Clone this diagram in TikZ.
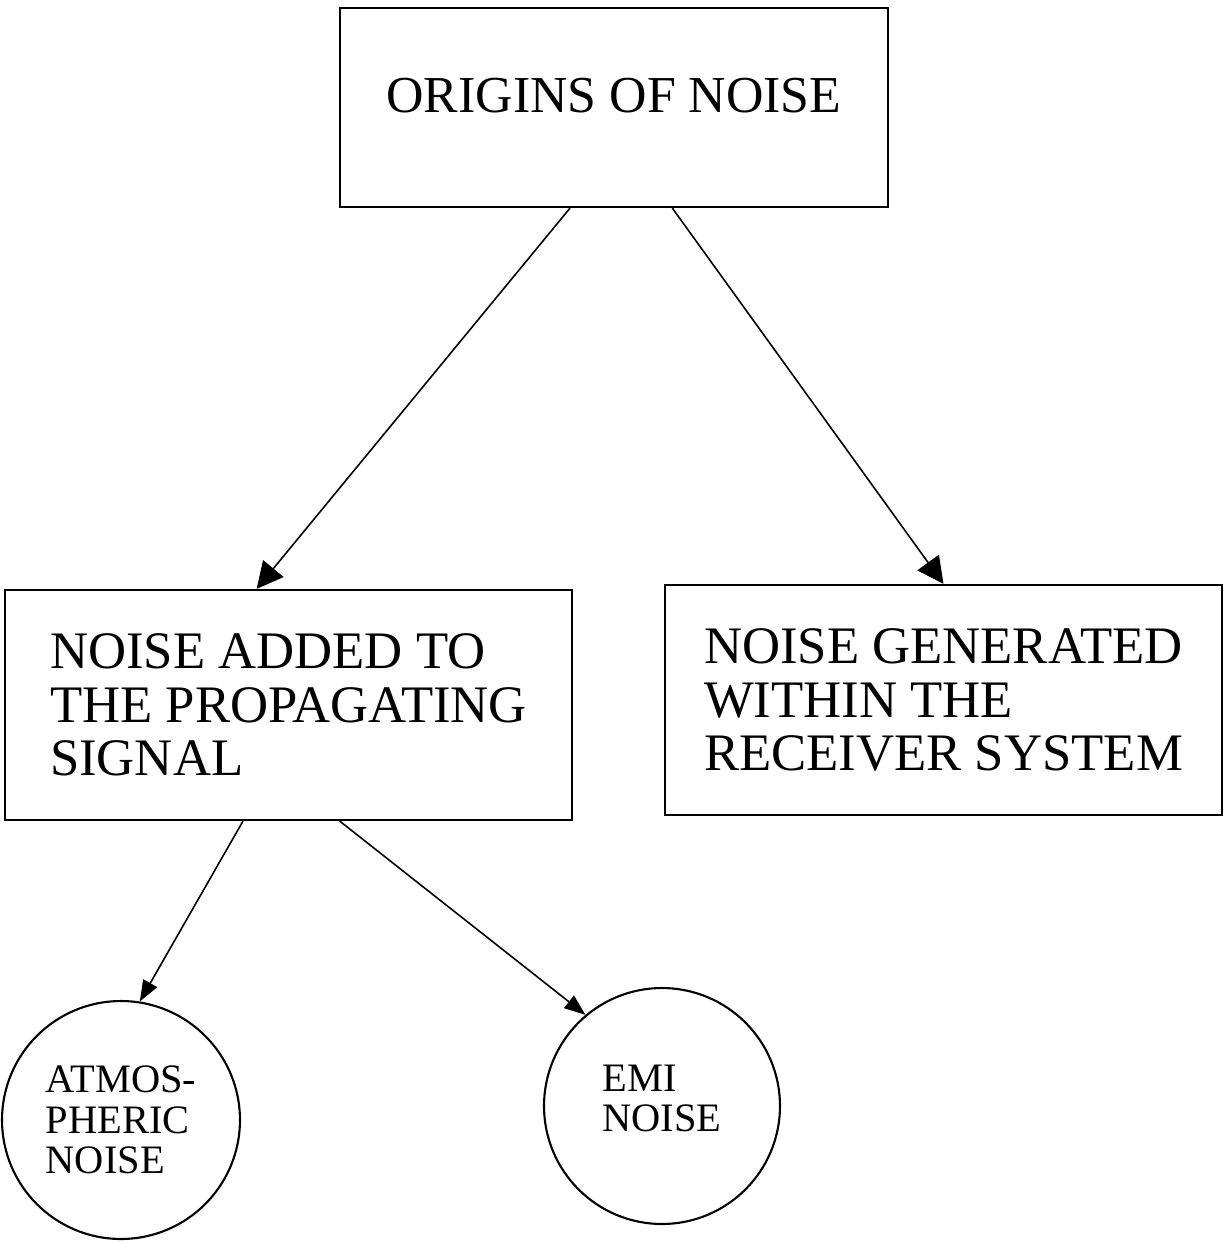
\documentclass[tikz,border=0pt]{standalone}
\usepackage{fontspec}
\setmainfont{Liberation Serif}
\usetikzlibrary{arrows.meta,calc}

\begin{document}
\begin{tikzpicture}[x=0.02cm,y=-0.02cm,
  box/.style={draw,line width=1.3pt,inner sep=0pt,align=left,font=\fontsize{30}{30.5}\selectfont},
  blob/.style={draw,circle,line width=1.2pt,inner sep=0pt,align=left,font=\fontsize{23}{23}\selectfont},
  bigarrow/.style={-{Triangle[length=15pt,width=15pt]},line width=0.9pt},
  smallarrow/.style={-{Triangle[length=12pt,width=9pt]},line width=0.9pt}]
\useasboundingbox (0,0) rectangle (1225,1244);
\node [box,minimum width=10.96cm,minimum height=3.98cm,text depth=0.48cm,font=\fontsize{29.5}{30}\selectfont] (orig) at (614,107.5) {ORIGINS OF NOISE};
\node [box,minimum width=11.34cm,minimum height=4.6cm] (added) at (288.5,705) {NOISE ADDED TO\\THE PROPAGATING\\SIGNAL};
\node [box,minimum width=11.14cm,minimum height=4.6cm] (gen) at (943.5,700) {NOISE GENERATED\\WITHIN THE\\RECEIVER SYSTEM};
\node [blob,minimum size=4.76cm] (atm) at (121,1120) {ATMOS-\\PHERIC\\NOISE};
\node [blob,minimum size=4.72cm,text depth=0.3cm] (emi) at (662,1106) {EMI\\NOISE};
\draw [bigarrow] ($(orig.south west)!0.42!(orig.south east)$) -- ($(added.north west)!0.444!(added.north east)$);
\draw [bigarrow] ($(orig.south west)!0.606!(orig.south east)$) -- (gen.north);
\draw [smallarrow] ($(added.south west)!0.42!(added.south east)$) -- (atm.81);
\draw [smallarrow] ($(added.south west)!0.59!(added.south east)$) -- (emi.130);
\end{tikzpicture}
\end{document}
